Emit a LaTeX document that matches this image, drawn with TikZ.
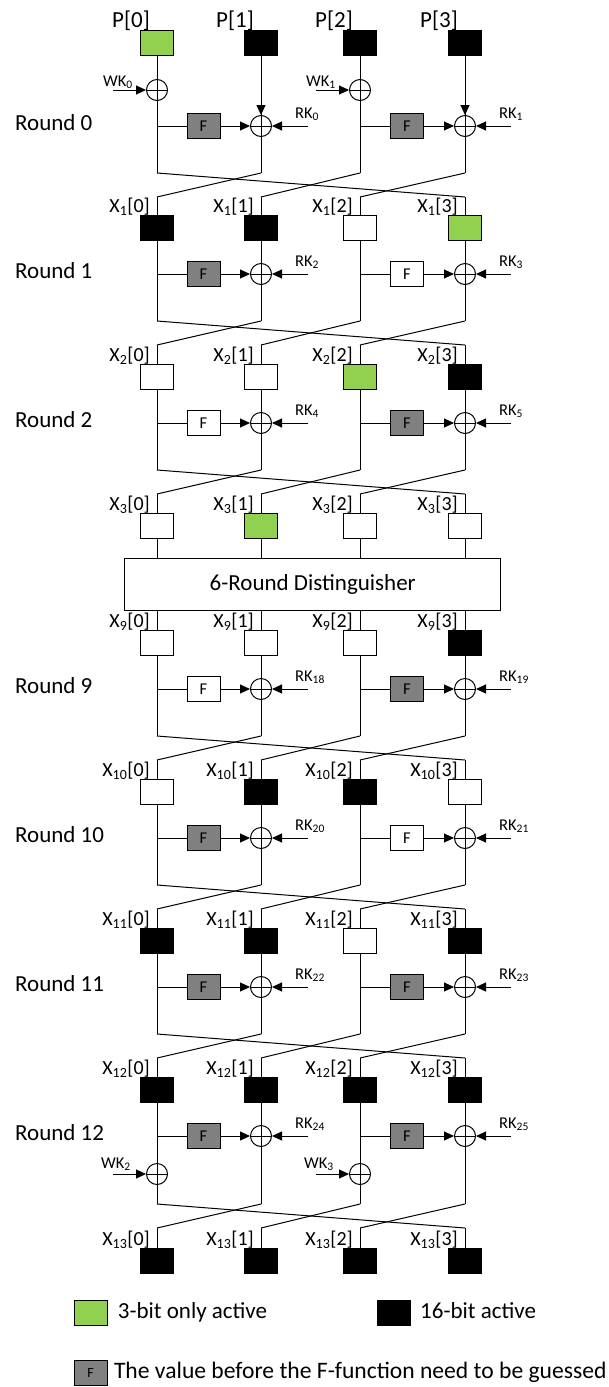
\documentclass[tikz,border=0pt]{standalone}
\usepackage{fontspec}
\setmainfont{Carlito}
\usetikzlibrary{arrows.meta}
\definecolor{actgreen}{HTML}{92D050}
\definecolor{fgray}{HTML}{808080}
\tikzset{
  wire/.style={line width=1pt},
  cell/.style={draw, line width=1pt, minimum width=33pt, minimum height=25pt, inner sep=0pt, anchor=north},
  fbox/.style={draw, line width=1pt, minimum width=33pt, minimum height=25pt, inner sep=0pt, font=\fontsize{16.5}{16.5}\selectfont},
  xorn/.style={draw, circle, line width=1pt, minimum size=21pt, inner sep=0pt,
    path picture={\draw[line width=1pt] (path picture bounding box.north) -- (path picture bounding box.south)
      (path picture bounding box.west) -- (path picture bounding box.east);}},
  arr/.style={wire, -{Triangle[length=10pt,width=9pt]}},
  xlab/.style={font=\fontsize{20}{20}\selectfont, inner sep=0pt, anchor=base east},
  plab/.style={font=\fontsize{23}{23}\selectfont, inner sep=0pt, anchor=base east},
  klab/.style={font=\fontsize{16.5}{16.5}\selectfont, inner sep=0pt, anchor=base west},
  rlab/.style={font=\fontsize{23}{23}\selectfont, inner sep=0pt, anchor=base west},
}
% #1 name, #2 top y, #3 label style, #4 label prefix, #5-#8 fills
\newcommand\CellRow[8]{%
  \node[cell,fill=#5] (#1-0) at (157,#2) {};
  \node[cell,fill=#6] (#1-1) at (261,#2) {};
  \node[cell,fill=#7] (#1-2) at (360,#2) {};
  \node[cell,fill=#8] (#1-3) at (465,#2) {};
  \node[#3] (#1-l0) at (150,#2-2.5) {#4[0]};
  \node[#3] (#1-l1) at (254,#2-2.5) {#4[1]};
  \node[#3] (#1-l2) at (353,#2-2.5) {#4[2]};
  \node[#3] (#1-l3) at (458,#2-2.5) {#4[3]};
}
% #1 this row, #2 next row, #3 F row y, #4 crossing start y, #5 #6 F fills, #7 #8 RK subscripts, #9 round label
\newcommand\RoundBody[9]{%
  \pgfmathsetmacro\ye{#4+24}
  \node[fbox,fill=#5] (#1-F0) at (203.5,#3) {F};
  \node[fbox,fill=#6] (#1-F1) at (407,#3) {F};
  \node[xorn] (#1-x0) at (261,#3) {};
  \node[xorn] (#1-x1) at (465,#3) {};
  \coordinate (#1-s0) at (157,#4);
  \coordinate (#1-s1) at (261,#4);
  \coordinate (#1-s2) at (360,#4);
  \coordinate (#1-s3) at (465,#4);
  \coordinate (#1-e0) at (157,\ye);
  \coordinate (#1-e1) at (261,\ye);
  \coordinate (#1-e2) at (360,\ye);
  \coordinate (#1-e3) at (465,\ye);
  \coordinate (#1-j0) at (157,#3);
  \coordinate (#1-j1) at (360,#3);
  \coordinate (#1-k0) at (308,#3);
  \coordinate (#1-k1) at (511,#3);
  \draw[wire] (#1-0.south) -- (#1-s0);
  \draw[wire] (#1-1.south) -- (#1-x0.north);
  \draw[wire] (#1-x0.south) -- (#1-s1);
  \draw[wire] (#1-2.south) -- (#1-s2);
  \draw[wire] (#1-3.south) -- (#1-x1.north);
  \draw[wire] (#1-x1.south) -- (#1-s3);
  \draw[wire] (#1-j0) -- (#1-F0.west);
  \draw[wire] (#1-j1) -- (#1-F1.west);
  \draw[arr] (#1-F0.east) -- (#1-x0.west);
  \draw[arr] (#1-F1.east) -- (#1-x1.west);
  \draw[arr] (#1-k0) -- (#1-x0.east);
  \draw[arr] (#1-k1) -- (#1-x1.east);
  \node[klab] (#1-rk0) at (295,#3-8) {RK\textsubscript{#7}};
  \node[klab] (#1-rk1) at (499,#3-8) {RK\textsubscript{#8}};
  \draw[wire] (#1-s0) -- (#1-e3);
  \draw[wire] (#1-s1) -- (#1-e0);
  \draw[wire] (#1-s2) -- (#1-e1);
  \draw[wire] (#1-s3) -- (#1-e2);
  \draw[wire] (#1-e0) -- (#2-0.north);
  \draw[wire] (#1-e1) -- (#2-1.north);
  \draw[wire] (#1-e2) -- (#2-2.north);
  \draw[wire] (#1-e3) -- (#2-3.north);
  \node[rlab] (#1-rl) at (15,#3+4) {#9};
}
\begin{document}
\begin{tikzpicture}[x=1pt,y=-1pt]
\useasboundingbox (0,0) rectangle (608,1387);
\CellRow{r0}{30}{plab}{P}{actgreen}{black}{black}{black}
\CellRow{r1}{215}{xlab}{X\textsubscript{1}}{black}{black}{white}{actgreen}
\CellRow{r2}{364}{xlab}{X\textsubscript{2}}{white}{white}{actgreen}{black}
\CellRow{r3}{513}{xlab}{X\textsubscript{3}}{white}{actgreen}{white}{white}
\CellRow{r4}{630}{xlab}{X\textsubscript{9}}{white}{white}{white}{black}
\CellRow{r5}{779}{xlab}{X\textsubscript{10}}{white}{black}{black}{white}
\CellRow{r6}{928}{xlab}{X\textsubscript{11}}{black}{black}{white}{black}
\CellRow{r7}{1077}{xlab}{X\textsubscript{12}}{black}{black}{black}{black}
\CellRow{r8}{1248}{xlab}{X\textsubscript{13}}{black}{black}{black}{black}

\RoundBody{r0}{r1}{126}{173}{fgray}{fgray}{0}{1}{Round 0}
\RoundBody{r1}{r2}{274}{321}{fgray}{white}{2}{3}{Round 1}
\RoundBody{r2}{r3}{423}{470}{white}{fgray}{4}{5}{Round 2}
\RoundBody{r4}{r5}{689}{736}{white}{fgray}{18}{19}{Round 9}
\RoundBody{r5}{r6}{838}{885}{fgray}{white}{20}{21}{Round 10}
\RoundBody{r6}{r7}{987}{1034}{fgray}{fgray}{22}{23}{Round 11}
\RoundBody{r7}{r8}{1136}{1204}{fgray}{fgray}{24}{25}{Round 12}

% input arrows of round 0
\draw[arr] (r0-1.south) -- (r0-x0.north);
\draw[arr] (r0-3.south) -- (r0-x1.north);

% whitening keys
\node[xorn] (w0) at (157,90) {};
\node[xorn] (w1) at (360,90) {};
\node[xorn] (w2) at (157,1174) {};
\node[xorn] (w3) at (360,1174) {};
\coordinate (w0a) at (113,90);
\coordinate (w1a) at (316,90);
\coordinate (w2a) at (113,1174);
\coordinate (w3a) at (316,1174);
\draw[arr] (w0a) -- (w0.west);
\draw[arr] (w1a) -- (w1.west);
\draw[arr] (w2a) -- (w2.west);
\draw[arr] (w3a) -- (w3.west);
\node[klab] (w0l) at (103,86) {WK\textsubscript{0}};
\node[klab] (w1l) at (306,86) {WK\textsubscript{1}};
\node[klab] (w2l) at (101,1168) {WK\textsubscript{2}};
\node[klab] (w3l) at (304,1168) {WK\textsubscript{3}};

% distinguisher
\node[draw, line width=1pt, minimum width=376pt, minimum height=52pt, inner sep=0pt,
      font=\fontsize{23}{23}\selectfont] (dist) at (312.75,584) {6-Round Distinguisher};
\foreach \i in {0,...,3} {
  \draw[wire] (r3-\i.south) -- (r3-\i.south |- dist.north);
  \draw[wire] (r4-\i.north |- dist.south) -- (r4-\i.north);
}

% legend
\node[cell, fill=actgreen, anchor=center] (lg) at (90.5,1313) {};
\node[cell, fill=black, anchor=center] (lb) at (393.5,1313) {};
\node[fbox, fill=fgray, font=\fontsize{14}{14}\selectfont] (lf) at (90.5,1373) {F};
\node[rlab] (lgt) at (117.7,1318) {3-bit only active};
\node[rlab] (lbt) at (420,1318) {16-bit active};
\node[rlab, font=\fontsize{23.6}{23.6}\selectfont] (lft) at (113.8,1378) {The value before the F-function need to be guessed};
\end{tikzpicture}
\end{document}
